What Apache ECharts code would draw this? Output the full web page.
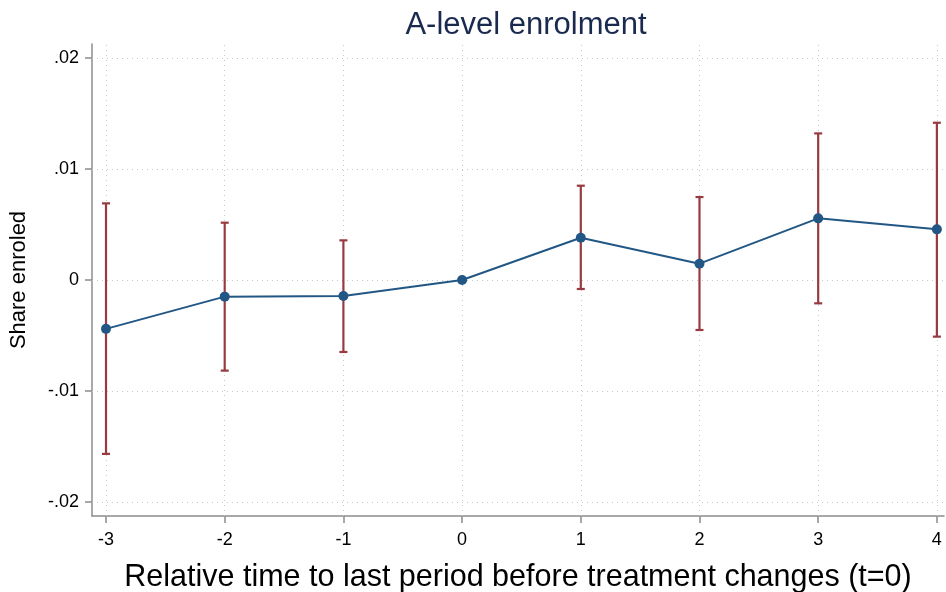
<!DOCTYPE html>
<html>
<head>
<meta charset="utf-8">
<script src="https://cdn.jsdelivr.net/npm/echarts@6/dist/echarts.min.js"></script>
<style>
html,body{margin:0;padding:0;background:#fff;}
#chart{width:946px;height:592px;}
</style>
</head>
<body>
<div id="chart"></div>
<script>
// Event-study estimates by relative period
const periods = [-3, -2, -1, 0, 1, 2, 3, 4];
const estimates = [-0.0044, -0.0015, -0.00144, 0, 0.0038, 0.00147, 0.00555, 0.00456];
const ciLower = [-0.01566, -0.00816, -0.00648, 0, -0.00081, -0.0045, -0.0021, -0.0051];
const ciUpper = [0.0069, 0.00516, 0.00357, 0, 0.00849, 0.00747, 0.0132, 0.01416];
const yTicks = [-0.02, -0.01, 0, 0.01, 0.02];
const xTicks = [-3, -2, -1, 0, 1, 2, 3, 4];

const FONT = '"Liberation Sans", Arial, sans-serif';
const NAVY = '#225785';
const MAROON = '#983a40';

function fmtY(v) {
  if (Math.abs(v) < 1e-12) return '0';
  const s = String(+v.toFixed(2));
  return s.replace('0.', '.');
}

const chart = echarts.init(document.getElementById('chart'), null, {renderer: 'canvas'});

const pointData = periods.map((p, i) => [p, estimates[i]]);
const ciData = periods.map((p, i) => [p, ciLower[i], ciUpper[i]]);

chart.setOption({
  animation: false,
  backgroundColor: '#ffffff',
  title: {
    text: 'A-level enrolment',
    left: 521,
    textAlign: 'center',
    top: 5,
    textStyle: {fontFamily: FONT, fontSize: 31, fontWeight: 'normal', color: '#1a2a4f'}
  },
  grid: {left: 92, right: 2, top: 44, bottom: 76, containLabel: false, outerBoundsMode: 'none'},
  xAxis: {
    type: 'value',
    min: -3.118,
    max: 4.06,
    name: 'Relative time to last period before treatment changes (t=0)',
    nameLocation: 'middle',
    nameGap: 46,
    nameTextStyle: {fontFamily: FONT, fontSize: 30.5, color: '#000'},
    axisLine: {show: true, onZero: false, lineStyle: {color: '#8c8c8c', width: 1.5}},
    axisTick: {show: true, length: 7, customValues: xTicks, lineStyle: {color: '#8c8c8c', width: 1.5}},
    axisLabel: {customValues: xTicks, margin: 15, fontFamily: FONT, fontSize: 18, color: '#000', formatter: v => String(v)},
    splitLine: {show: false}
  },
  yAxis: {
    type: 'value',
    min: -0.02125,
    max: 0.02125,
    name: 'Share enroled',
    nameLocation: 'middle',
    nameGap: 62,
    nameTextStyle: {fontFamily: FONT, fontSize: 22, color: '#000'},
    axisLine: {show: true, onZero: false, lineStyle: {color: '#8c8c8c', width: 1.5}},
    axisTick: {show: true, length: 7, customValues: yTicks, lineStyle: {color: '#8c8c8c', width: 1.5}},
    axisLabel: {customValues: yTicks, margin: 13, fontFamily: FONT, fontSize: 18, color: '#000', formatter: fmtY},
    splitLine: {show: false}
  },
  series: [
    {
      // dotted reference grid at the tick values
      type: 'line',
      data: [],
      silent: true,
      z: 1,
      markLine: {
        symbol: 'none',
        silent: true,
        label: {show: false},
        lineStyle: {color: '#c8c8c8', type: [1, 4], width: 1},
        data: yTicks.map(v => ({yAxis: v})).concat(xTicks.map(v => ({xAxis: v})))
      }
    },
    {
      type: 'custom',
      name: 'CI',
      data: ciData,
      z: 5,
      renderItem: function (params, api) {
        const x = api.value(0);
        const lo = api.coord([x, api.value(1)]);
        const hi = api.coord([x, api.value(2)]);
        const cap = 4;
        const style = {stroke: MAROON, lineWidth: 2.2, fill: null};
        return {
          type: 'group',
          children: [
            {type: 'line', shape: {x1: lo[0], y1: lo[1], x2: hi[0], y2: hi[1]}, style: style},
            {type: 'line', shape: {x1: lo[0] - cap, y1: lo[1], x2: lo[0] + cap, y2: lo[1]}, style: style},
            {type: 'line', shape: {x1: hi[0] - cap, y1: hi[1], x2: hi[0] + cap, y2: hi[1]}, style: style}
          ]
        };
      }
    },
    {
      type: 'line',
      name: 'Estimate',
      data: pointData,
      z: 6,
      symbol: 'circle',
      symbolSize: 10,
      itemStyle: {color: NAVY},
      lineStyle: {color: NAVY, width: 2}
    }
  ]
});
</script>
</body>
</html>
